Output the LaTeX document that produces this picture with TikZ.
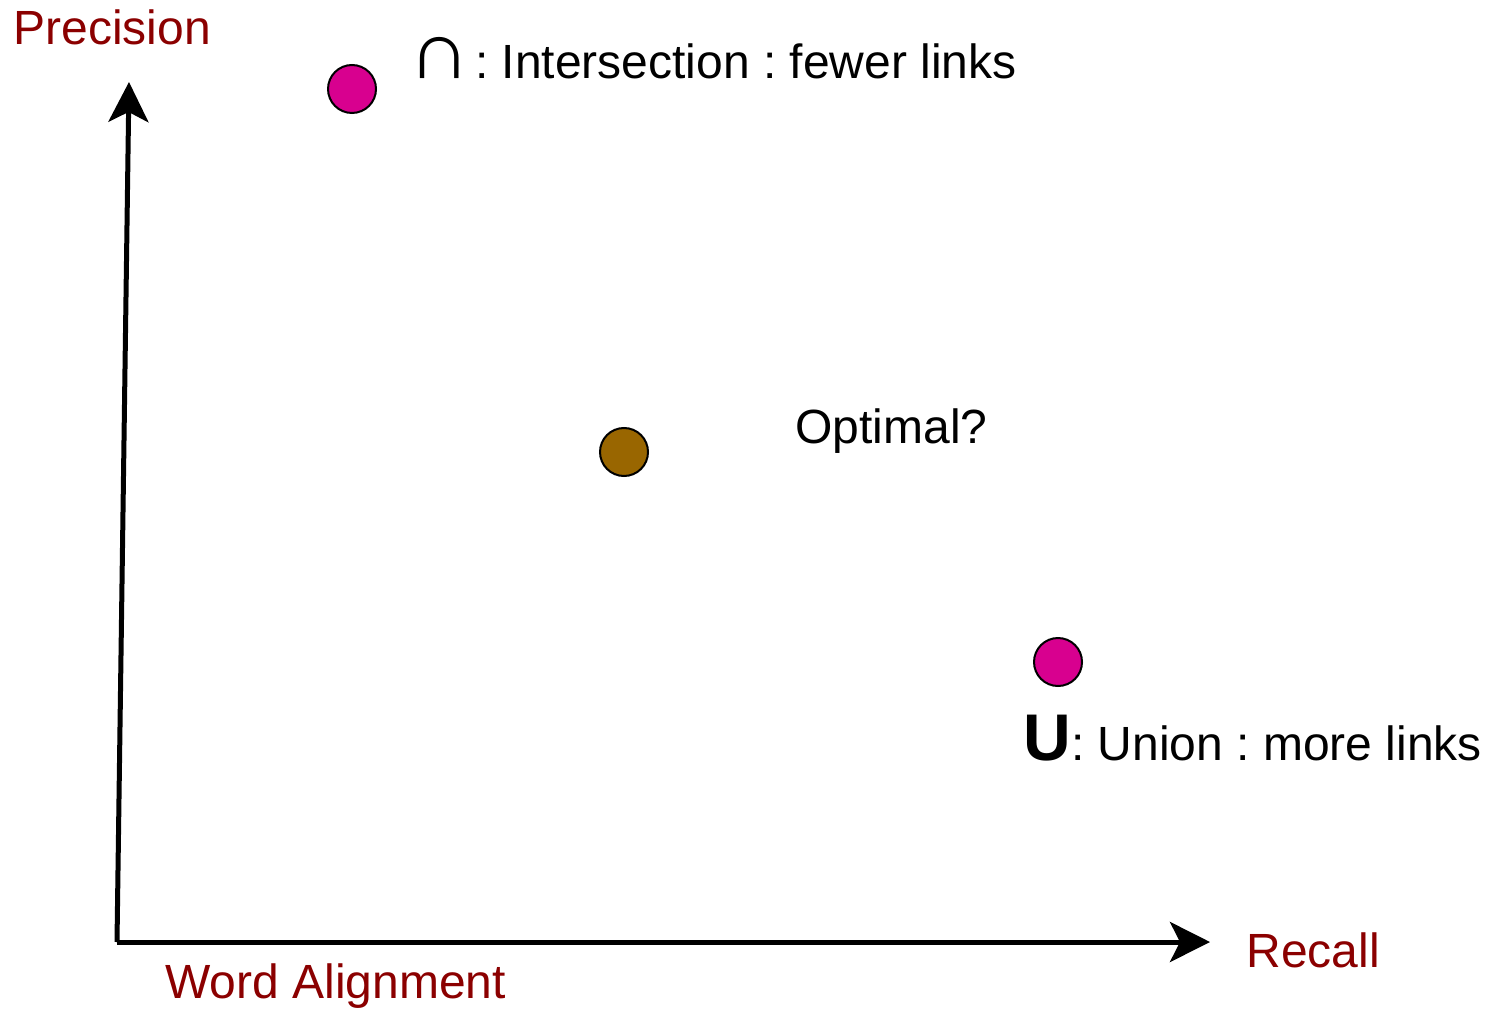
\documentclass[tikz,border=0pt]{standalone}
\usepackage{fontspec}
\setmainfont{Liberation Sans}
\usetikzlibrary{positioning,arrows.meta}
\definecolor{axL}{HTML}{8B0000}
\definecolor{ptM}{HTML}{D8008F}
\definecolor{ptB}{HTML}{996600}
\definecolor{txt}{HTML}{000000}
\frenchspacing

\begin{document}
\begin{tikzpicture}[x=0.5pt,y=-0.5pt,font=\fontsize{24}{28}\selectfont,text=txt,
  >={Stealth[length=20pt,width=20pt,inset=5pt]},
  ax/.style={line width=2.5pt,->},
  pt/.style={circle,draw=black,line width=1pt,minimum size=24pt,inner sep=0pt},
  lbl/.style={text=axL,inner sep=0pt,anchor=base west},
  note/.style={inner sep=0pt,anchor=base west}]
\useasboundingbox (0,0) rectangle (1486,1010);

% axes
\coordinate (o) at (117,942);
\coordinate (ytip) at (129,82);
\coordinate (xtip) at (1210,942);
\draw[ax] (o) -- (ytip);
\draw[ax] (o) -- (xtip);

\node[lbl] (prec) at (13,45) {Precision};
\node[lbl] (rec) at (1246,967) {Recall};
\node[lbl] (wa) at (165,998) {Word Alignment};

% points
\node[pt,fill=ptM] (inter) at (352,89) {};
\node[pt,fill=ptB] (opt) at (624,452) {};
\node[pt,fill=ptM] (union) at (1058,662) {};

\node[note] (interL) at (408,79) {\scalebox{1.8}[1.7]{\bfseries ∩}\kern-4.5pt{} : Intersection : fewer links};
\node[note] (optL) at (795,443) {Optimal?};
\node[note] (unionL) at (1023,760) {{\fontsize{33}{36}\selectfont\bfseries U}: Union : more links};

\end{tikzpicture}
\end{document}
